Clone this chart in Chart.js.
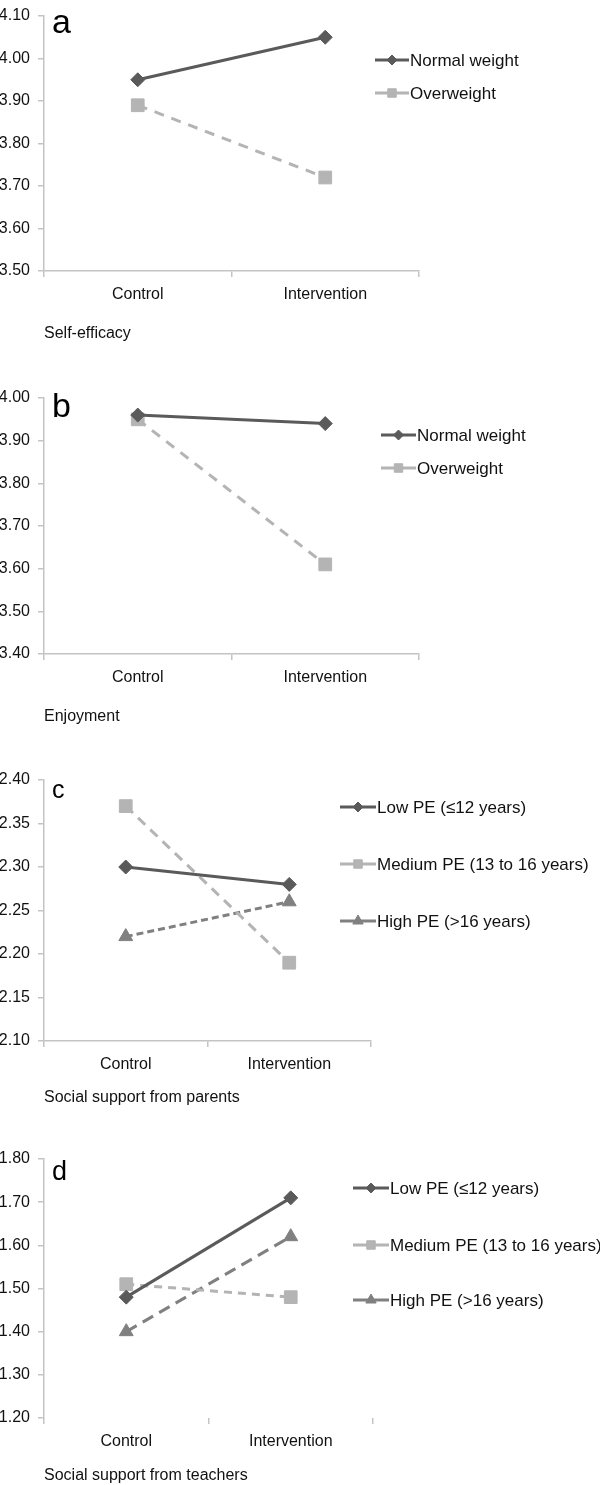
<!DOCTYPE html>
<html>
<head>
<meta charset="utf-8">
<script src="https://cdn.jsdelivr.net/npm/chart.js@4"></script>
<style>
  body { margin: 0; background: #fff; width: 600px; height: 1485px; position: relative; overflow: hidden; }
  canvas { position: absolute; left: 0; }
</style>
</head>
<body>
<canvas id="chart-a" width="600" height="343" style="top:0px"></canvas>
<canvas id="chart-b" width="600" height="344" style="top:382px"></canvas>
<canvas id="chart-c" width="600" height="343" style="top:764px"></canvas>
<canvas id="chart-d" width="600" height="342" style="top:1143px"></canvas>
<script>
const groups = ['Control', 'Intervention'];
const weightLabels = ['Normal weight', 'Overweight'];
const peLabels = ['Low PE (≤12 years)', 'Medium PE (13 to 16 years)', 'High PE (>16 years)'];

const selfEfficacyNormal = [3.95, 4.05];
const selfEfficacyOver = [3.89, 3.72];
const enjoymentNormal = [3.96, 3.94];
const enjoymentOver = [3.95, 3.61];
const parentsLow = [2.30, 2.28];
const parentsMedium = [2.37, 2.19];
const parentsHigh = [2.22, 2.26];
const teachersLow = [1.48, 1.71];
const teachersMedium = [1.51, 1.48];
const teachersHigh = [1.40, 1.62];

const ticksA = [3.50, 3.60, 3.70, 3.80, 3.90, 4.00, 4.10];
const ticksB = [3.40, 3.50, 3.60, 3.70, 3.80, 3.90, 4.00];
const ticksC = [2.10, 2.15, 2.20, 2.25, 2.30, 2.35, 2.40];
const ticksD = [1.20, 1.30, 1.40, 1.50, 1.60, 1.70, 1.80];

const FONT = "'Liberation Sans Narrow', 'Liberation Sans', Arial, sans-serif";
const dark = '#5a5a5a';
const light = '#b4b4b4';
const mid = '#808080';
const axisGray = '#c4c4c4';

Chart.defaults.font.family = FONT;
Chart.defaults.color = '#111';

// legend at the right side plus the panel letter
const sideLegend = {
    id: 'sideLegend',
    afterDraw(chart, args, opts) {
        const ctx = chart.ctx;
        ctx.save();
        chart.data.datasets.forEach((ds, i) => {
            const y = opts.ys[i];
            ctx.strokeStyle = ds.borderColor;
            ctx.lineWidth = 3;
            ctx.setLineDash([]);
            ctx.beginPath();
            ctx.moveTo(opts.x0, y);
            ctx.lineTo(opts.x1, y);
            ctx.stroke();
            ctx.fillStyle = ds.pointBackgroundColor;
            ctx.lineWidth = 1;
            Chart.helpers.drawPoint(ctx, {
                pointStyle: ds.pointStyle,
                radius: ds.legendRadius,
                rotation: 0,
                borderWidth: 1
            }, (opts.x0 + opts.x1) / 2, y);
            ctx.fillStyle = '#111';
            ctx.font = '17px ' + FONT;
            ctx.textBaseline = 'middle';
            ctx.textAlign = 'left';
            ctx.fillText(ds.label, opts.tx, y + 1);
        });
        ctx.font = opts.letterSize + 'px "Liberation Sans", Arial, sans-serif';
        ctx.textBaseline = 'alphabetic';
        ctx.fillStyle = '#000';
        ctx.fillText(opts.letter, 52, opts.letterY);
        ctx.restore();
    }
};

function series(label, data, color, style, radius, dash, legendRadius) {
    return {
        label: label,
        data: data,
        borderColor: color,
        backgroundColor: color,
        pointBackgroundColor: color,
        pointBorderColor: color,
        pointStyle: style,
        pointRadius: radius,
        pointBorderWidth: 1,
        borderWidth: 3,
        borderDash: dash,
        legendRadius: legendRadius,
        tension: 0
    };
}

function makeChart(id, datasets, ticks, p) {
    const ctx = document.getElementById(id).getContext('2d');
    return new Chart(ctx, {
        type: 'line',
        data: { labels: groups, datasets: datasets },
        plugins: [sideLegend],
        options: {
            responsive: false,
            animation: false,
            devicePixelRatio: 1,
            layout: { padding: { top: p.padTop, right: p.padRight, bottom: 0, left: 0 } },
            plugins: {
                legend: { display: false },
                tooltip: { enabled: false },
                sideLegend: p.legend
            },
            scales: {
                x: {
                    offset: true,
                    grid: { offset: true, drawOnChartArea: false, tickLength: 6, color: axisGray, lineWidth: 1.5 },
                    border: { display: p.xBorder, color: axisGray, width: 1.5 },
                    ticks: { padding: 8, font: { size: 16 }, maxRotation: 0 },
                    title: { display: true, text: p.title, align: 'start', font: { size: 16 }, padding: { top: 0, bottom: 0 } },
                    afterFit: s => { s.height = p.xHeight; }
                },
                y: {
                    min: ticks[0],
                    max: ticks[ticks.length - 1],
                    grid: { drawOnChartArea: false, tickLength: 6, color: axisGray, lineWidth: 1.5 },
                    border: { color: axisGray, width: 1.5 },
                    afterBuildTicks: s => { s.ticks = ticks.map(v => ({ value: v })); },
                    ticks: {
                        padding: 8,
                        font: { size: 16, lineHeight: 1 },
                        callback: v => Number(v).toFixed(2)
                    },
                    afterFit: s => { s.width = 44; }
                }
            }
        }
    });
}

makeChart('chart-a', [
    series(weightLabels[0], selfEfficacyNormal, dark, 'rectRot', 7, [], 5),
    series(weightLabels[1], selfEfficacyOver, light, 'rect', 9, [10, 8], 6)
], ticksA, {
    padTop: 8, padRight: 181, xHeight: 72, xBorder: true, title: 'Self-efficacy',
    legend: { x0: 375, x1: 409, tx: 410, ys: [60, 93], letter: 'a', letterSize: 34, letterY: 33 }
});

makeChart('chart-b', [
    series(weightLabels[0], enjoymentNormal, dark, 'rectRot', 7, [], 5),
    series(weightLabels[1], enjoymentOver, light, 'rect', 9, [10, 8], 6)
], ticksB, {
    padTop: 10, padRight: 181, xHeight: 72, xBorder: true, title: 'Enjoyment',
    legend: { x0: 381, x1: 416, tx: 417, ys: [435 - 382, 468 - 382], letter: 'b', letterSize: 34, letterY: 417 - 382 }
});

makeChart('chart-c', [
    series(peLabels[0], parentsLow, dark, 'rectRot', 7, [], 5),
    series(peLabels[1], parentsMedium, light, 'rect', 9, [10, 7], 6),
    series(peLabels[2], parentsHigh, mid, 'triangle', 8, [7, 4], 6)
], ticksC, {
    padTop: 10, padRight: 229, xHeight: 66, xBorder: true, title: 'Social support from parents',
    legend: { x0: 340, x1: 376, tx: 377, ys: [807 - 764, 864 - 764, 921 - 764], letter: 'c', letterSize: 25, letterY: 798 - 764 }
});

makeChart('chart-d', [
    series(peLabels[0], teachersLow, dark, 'rectRot', 7, [], 5),
    series(peLabels[1], teachersMedium, light, 'rect', 9, [8, 6], 6),
    series(peLabels[2], teachersHigh, mid, 'triangle', 8, [12, 7], 6)
], ticksD, {
    padTop: 10, padRight: 227, xHeight: 67, xBorder: false, title: 'Social support from teachers',
    legend: { x0: 353, x1: 389, tx: 390, ys: [1188 - 1143, 1245 - 1143, 1300 - 1143], letter: 'd', letterSize: 27, letterY: 1180 - 1143 }
});
</script>
</body>
</html>
